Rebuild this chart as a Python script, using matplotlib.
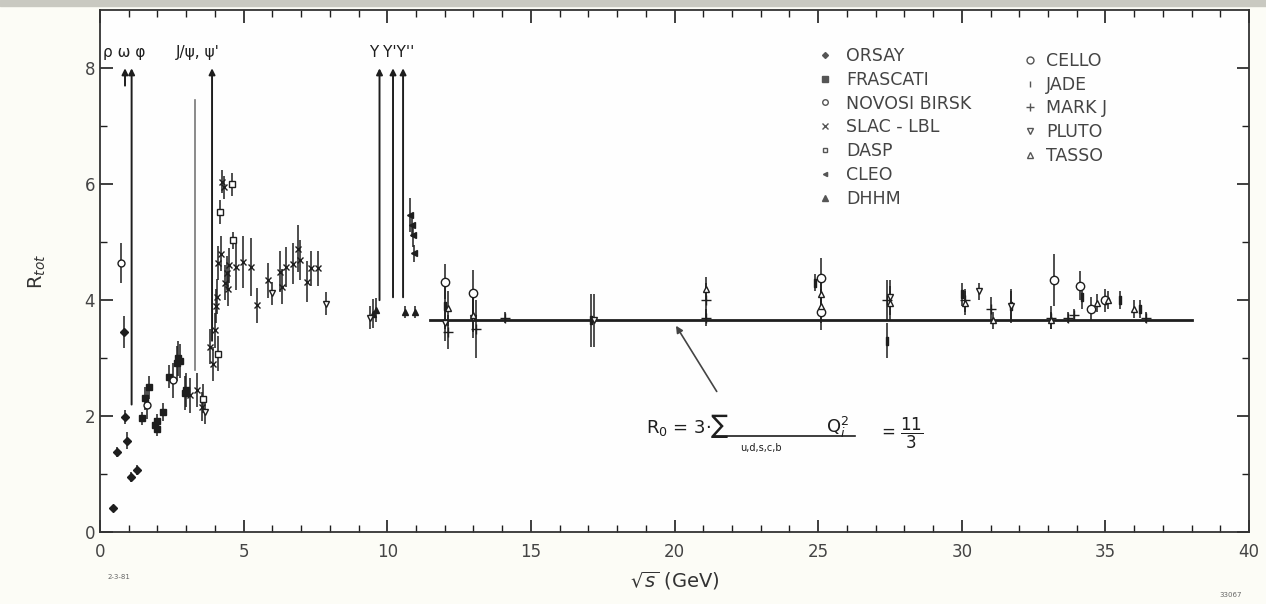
import matplotlib.pyplot as plt
import numpy as np
from matplotlib.lines import Line2D
from matplotlib.patches import Rectangle

# R_tot measurements (sqrt(s) in GeV, R, error)
orsay_e = [0.44, 0.59, 0.83, 0.87, 0.93, 1.07, 1.28]
orsay_r = [0.41, 1.38, 3.45, 1.98, 1.58, 0.95, 1.07]
orsay_err = [0.05, 0.08, 0.28, 0.12, 0.15, 0.08, 0.08]

frascati_e = [1.45, 1.57, 1.70, 1.93, 1.97, 2.00, 2.18, 2.41, 2.67, 2.71, 2.80, 2.96, 3.00]
frascati_r = [1.96, 2.31, 2.50, 1.85, 1.78, 1.92, 2.07, 2.68, 2.91, 3.00, 2.95, 2.40, 2.45]
frascati_err = [0.12, 0.2, 0.2, 0.12, 0.12, 0.12, 0.15, 0.2, 0.3, 0.3, 0.3, 0.3, 0.3]

novo_e = [0.72, 1.62, 2.55]
novo_r = [4.64, 2.20, 2.62]
novo_err = [0.35, 0.25, 0.3]

slac_e = [3.13, 3.36, 3.54, 3.83, 3.95, 4.00, 4.05, 4.06, 4.11, 4.20, 4.23, 4.30,
          4.35, 4.41, 4.45, 4.50, 4.75, 4.99, 5.27, 5.45, 5.85, 6.26, 6.32, 6.49,
          6.72, 6.90, 6.96, 7.19, 7.36, 7.59]
slac_r = [2.36, 2.45, 2.16, 3.20, 2.90, 3.48, 3.90, 4.06, 4.64, 4.80, 6.04, 5.95,
          4.30, 4.47, 4.20, 4.60, 4.57, 4.66, 4.57, 3.91, 4.34, 4.49, 4.23, 4.57,
          4.63, 4.89, 4.69, 4.32, 4.55, 4.55]
slac_err = [0.3, 0.3, 0.25, 0.3, 0.3, 0.3, 0.3, 0.3, 0.3, 0.3, 0.2, 0.2,
            0.3, 0.3, 0.3, 0.3, 0.4, 0.45, 0.5, 0.3, 0.3, 0.35, 0.3, 0.35,
            0.35, 0.4, 0.35, 0.35, 0.3, 0.3]

dasp_e = [3.60, 4.11, 4.17, 4.58, 4.63]
dasp_r = [2.30, 3.08, 5.52, 6.00, 5.03]
dasp_err = [0.25, 0.3, 0.2, 0.2, 0.15]

cleo_e = [10.80, 10.85, 10.90, 10.93]
cleo_r = [5.47, 5.29, 5.12, 4.81]
cleo_err = [0.3, 0.2, 0.2, 0.15]

dhhm_e = [9.50, 9.62, 10.60, 10.96]
dhhm_r = [3.77, 3.83, 3.80, 3.80]
dhhm_err = [0.25, 0.2, 0.1, 0.1]

cello_e = [12.0, 13.0, 25.1, 25.1, 33.2, 34.1, 34.5, 35.0]
cello_r = [4.32, 4.12, 4.38, 3.79, 4.35, 4.25, 3.85, 4.00]
cello_err = [0.3, 0.4, 0.35, 0.3, 0.45, 0.25, 0.2, 0.2]

jade_e = [12.0, 17.1, 24.9, 27.4, 30.0, 31.7, 34.2, 35.5, 36.2]
jade_r = [3.90, 3.65, 4.30, 3.30, 4.10, 3.90, 4.05, 4.00, 3.85]
jade_err = [0.4, 0.45, 0.15, 0.3, 0.2, 0.25, 0.2, 0.15, 0.15]

markj_e = [12.1, 13.1, 14.1, 21.1, 21.1, 27.4, 30.1, 31.0, 33.1, 33.7, 33.9, 36.4]
markj_r = [3.45, 3.50, 3.70, 4.00, 3.70, 4.00, 4.00, 3.85, 3.70, 3.70, 3.75, 3.70]
markj_err = [0.3, 0.5, 0.1, 0.3, 0.15, 0.35, 0.2, 0.2, 0.2, 0.1, 0.1, 0.1]

pluto_e = [3.65, 5.97, 7.88, 9.40, 12.0, 13.0, 17.2, 27.5, 30.6, 31.7]
pluto_r = [2.07, 4.12, 3.94, 3.70, 3.60, 3.69, 3.65, 4.05, 4.15, 3.90]
pluto_err = [0.2, 0.2, 0.2, 0.2, 0.3, 0.35, 0.45, 0.3, 0.15, 0.3]

tasso_e = [12.1, 13.0, 21.1, 25.1, 25.1, 27.5, 30.1, 31.1, 33.1, 34.7, 35.1, 36.0]
tasso_r = [3.86, 3.75, 4.20, 4.10, 3.90, 3.95, 3.95, 3.65, 3.65, 3.95, 4.00, 3.85]
tasso_err = [0.3, 0.3, 0.2, 0.3, 0.3, 0.3, 0.2, 0.15, 0.15, 0.15, 0.15, 0.15]

# resonance positions (as drawn) and lower end of their lines
res_x = [0.87, 1.10, 3.30, 3.90, 9.73, 10.20, 10.55]
res_lo = [7.70, 2.20, 2.80, 3.30, 4.00, 4.05, 4.05]
res_hi = [8.0, 8.0, 7.45, 8.0, 8.0, 8.0, 8.0]

r0 = 11 / 3
r0_range = [11.5, 38.0]

ink = '#1e1e1e'

fig = plt.figure(figsize=(12.66, 6.04), dpi=100, facecolor='#fcfcf6')
fig.patches.append(Rectangle((0, 0.99), 1, 0.01, transform=fig.transFigure,
                             color='#c9c9c1', zorder=0))
ax = fig.add_axes([0.079, 0.119, 0.9076, 0.864])
ax.set_facecolor('#fefefe')

experiments = [
    ('ORSAY', orsay_e, orsay_r, orsay_err, 'D', True, 4),
    ('FRASCATI', frascati_e, frascati_r, frascati_err, 's', True, 5),
    ('NOVOSI BIRSK', novo_e, novo_r, novo_err, 'o', False, 5),
    ('SLAC - LBL', slac_e, slac_r, slac_err, 'x', True, 5),
    ('DASP', dasp_e, dasp_r, dasp_err, 's', False, 4),
    ('CLEO', cleo_e, cleo_r, cleo_err, '<', True, 4),
    ('DHHM', dhhm_e, dhhm_r, dhhm_err, '^', True, 5),
    ('CELLO', cello_e, cello_r, cello_err, 'o', False, 6),
    ('JADE', jade_e, jade_r, jade_err, '$\\mathrm{I}$', True, 6),
    ('MARK J', markj_e, markj_r, markj_err, '+', True, 7),
    ('PLUTO', pluto_e, pluto_r, pluto_err, 'v', False, 5),
    ('TASSO', tasso_e, tasso_r, tasso_err, '^', False, 5),
]

handles = []
for name, e, r, err, mk, filled, ms in experiments:
    fc = ink if filled else 'white'
    ax.errorbar(e, r, yerr=err, fmt='none', ecolor=ink, elinewidth=1.1,
                capsize=0, zorder=3)
    ax.plot(e, r, ls='none', marker=mk, ms=ms, mfc=fc, mec=ink, mew=1.0,
            zorder=4)
    handles.append(Line2D([], [], ls='none', marker=mk, color='#555555',
                          mfc='#555555' if filled else 'white', mec='#555555',
                          ms=ms - 1, label=name))

# R0 line
ax.plot(r0_range, [r0, r0], color=ink, lw=2.0, zorder=2)

# resonances
for x, lo, hi in zip(res_x, res_lo, res_hi):
    if hi < 8:
        ax.plot([x, x], [lo, hi], color='#777777', lw=1.2, zorder=2)
    else:
        ax.annotate('', xy=(x, hi), xytext=(x, lo),
                    arrowprops=dict(arrowstyle='-|>', color=ink, lw=1.4,
                                    mutation_scale=9, shrinkA=0, shrinkB=0))
ax.text(0.12, 8.2, 'ρ ω φ', fontsize=11, color=ink)
ax.text(2.65, 8.2, 'J/ψ, ψ\'', fontsize=11, color=ink)
ax.text(9.35, 8.2, 'Υ Υ\'Υ\'\'', fontsize=11, color=ink)

# formula annotation
ax.annotate('', xy=(0.5, 0.40), xytext=(0.538, 0.265), xycoords='axes fraction',
            arrowprops=dict(arrowstyle='-|>', color='#444444', lw=1.2,
                            mutation_scale=10))
ax.text(0.475, 0.19, r'R$_0$ = 3$\cdot\sum$', transform=ax.transAxes,
        fontsize=13, color=ink)
ax.text(0.632, 0.19, r'Q$_i^2$', transform=ax.transAxes, fontsize=13, color=ink)
ax.text(0.68, 0.18, r'= $\dfrac{11}{3}$', transform=ax.transAxes, fontsize=12,
        color=ink)
ax.plot([0.535, 0.657], [0.184, 0.184], transform=ax.transAxes, color=ink, lw=1.2)
ax.text(0.557, 0.155, 'u,d,s,c,b', transform=ax.transAxes, fontsize=7,
        color=ink)

# legends
leg1 = ax.legend(handles=handles[:7], loc='upper left',
                 bbox_to_anchor=(0.61, 0.96), frameon=False, fontsize=12.5,
                 handlelength=1.0, handletextpad=0.7, labelspacing=0.34,
                 labelcolor='#444444')
ax.add_artist(leg1)
ax.legend(handles=handles[7:], loc='upper left', bbox_to_anchor=(0.7885, 0.95),
          frameon=False, fontsize=12.5, handlelength=1.0, handletextpad=0.4,
          labelspacing=0.33, labelcolor='#444444')

ax.set_xlim(0, 40)
ax.set_ylim(0, 9)
ax.set_xticks(np.arange(0, 41, 5))
ax.set_xticks(np.arange(0, 41, 1), minor=True)
ax.set_yticks(np.arange(0, 9, 2))
ax.set_yticks(np.arange(0, 9, 1), minor=True)
ax.tick_params(which='both', direction='in', top=True, right=True,
               colors=ink, labelcolor='#444444', labelsize=12)
ax.tick_params(axis='x', which='major', pad=8)
ax.tick_params(which='major', length=9, width=1.2)
ax.tick_params(which='minor', length=5, width=1.0)
for s in ax.spines.values():
    s.set_color('#333333')
    s.set_linewidth(1.3)

ax.set_xlabel(r'$\sqrt{s}$ (GeV)', fontsize=14, color='#333333', labelpad=6)
ax.set_ylabel(r'R$_{tot}$', fontsize=14, color='#333333', labelpad=26)

fig.text(0.085, 0.042, '2-3-81', fontsize=5, color='#666666')
fig.text(0.963, 0.012, '33067', fontsize=5, color='#666666')

fig.savefig('out.png', dpi=100, facecolor=fig.get_facecolor())
